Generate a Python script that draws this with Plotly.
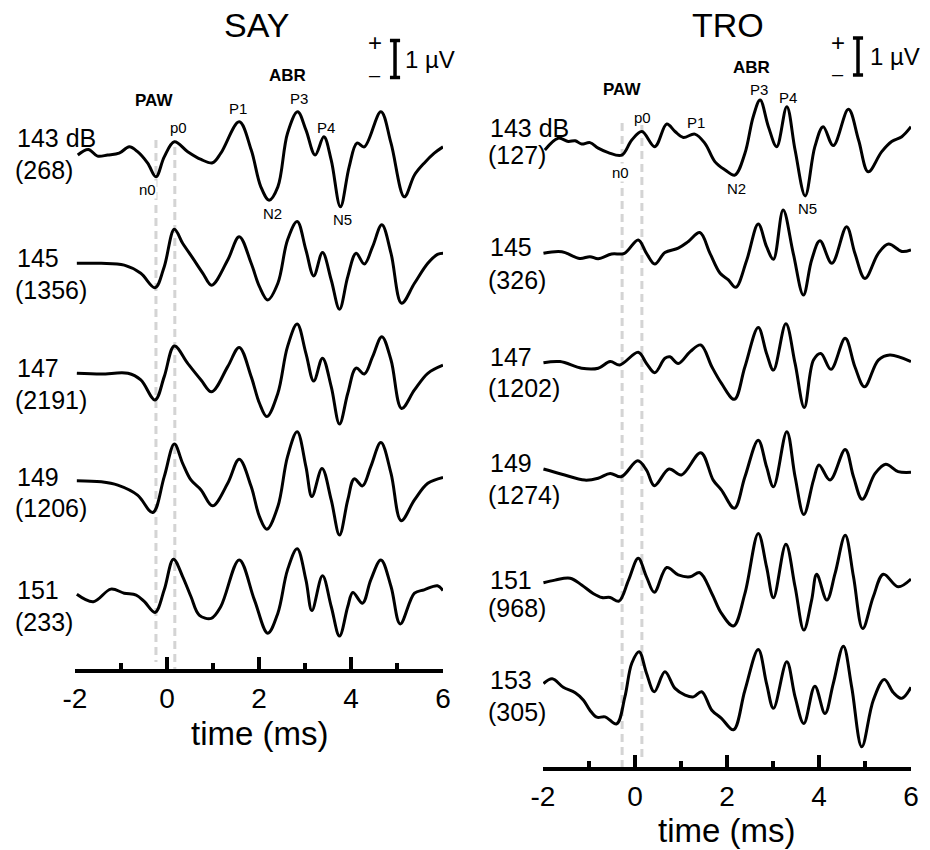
import plotly.graph_objects as go

# ---------------- DATA (time in ms, amplitude in µV relative to trace start) -------------
say_levels = ["143 dB", "145", "147", "149", "151"]
say_counts = ["(268)", "(1356)", "(2191)", "(1206)", "(233)"]
tro_levels = ["143 dB", "145", "147", "149", "151", "153"]
tro_counts = ["(127)", "(326)", "(1202)", "(1274)", "(968)", "(305)"]

say143_t = [-1.94,-1.71,-1.51,-1.29,-1.04,-0.82,-0.64,-0.42,-0.24,-0.06,0.16,0.45,0.74,0.99,1.17,1.57,1.83,2.04,2.22,2.41,2.62,2.84,3.02,3.22,3.41,3.57,3.77,3.96,4.13,4.29,4.65,4.87,5.16,5.38,5.59,5.81,6.0]
say143_v = [0,0.15,-0.03,0,0.05,0.22,0.09,-0.22,-0.59,-0.05,0.36,0.09,-0.12,-0.21,0.05,0.90,0.14,-0.86,-1.22,-0.86,0.59,1.17,0.68,0,0.49,-0.14,-1.40,-0.32,0.32,0.22,1.17,0.32,-1.13,-0.54,-0.22,0.05,0.22]

say145_t = [-1.96,-1.43,-0.93,-0.57,-0.26,-0.06,0.16,0.34,0.56,0.78,0.97,1.32,1.57,1.83,2.01,2.19,2.41,2.62,2.83,3.02,3.19,3.38,3.57,3.75,3.93,4.11,4.29,4.47,4.67,4.87,5.10,5.38,5.67,5.88,6.0]
say145_v = [0,0,-0.05,-0.27,-0.66,-0.09,0.92,0.54,0.14,-0.27,-0.59,0.09,0.72,0,-0.63,-0.99,-0.54,0.63,1.13,0.36,-0.34,0.29,-0.45,-1.24,-0.36,0.27,-0.02,0.45,1.04,0.27,-1.08,-0.54,0,0.24,0.27]

say147_t = [-1.96,-1.43,-0.85,-0.57,-0.26,-0.06,0.16,0.45,0.74,0.97,1.32,1.57,1.83,2.01,2.17,2.41,2.62,2.83,3.02,3.19,3.38,3.57,3.75,3.93,4.11,4.29,4.47,4.67,4.87,5.10,5.38,5.67,6.0]
say147_v = [0,-0.02,0,-0.18,-0.72,-0.09,0.74,0.27,-0.18,-0.50,0.18,0.70,-0.09,-0.81,-1.17,-0.54,0.72,1.33,0.54,-0.21,0.41,-0.36,-1.37,-0.54,0.14,-0.02,0.45,0.99,0.36,-0.95,-0.45,0,0.22]

say149_t = [-1.96,-1.43,-1.07,-0.64,-0.31,-0.06,0.16,0.34,0.52,0.74,0.99,1.32,1.57,1.83,2.01,2.17,2.41,2.62,2.83,3.02,3.15,3.37,3.57,3.75,3.93,4.07,4.25,4.43,4.65,4.87,5.09,5.38,5.67,6.0]
say149_v = [0,-0.03,-0.12,-0.39,-0.86,0.11,0.99,0.47,0.02,-0.25,-0.68,-0.07,0.58,-0.16,-0.97,-1.31,-0.70,0.65,1.32,0.38,-0.43,0.33,-0.52,-1.47,-0.52,0.05,-0.14,0.38,1.03,0.20,-1.08,-0.52,-0.07,0.09]

say151_t = [-1.96,-1.60,-1.22,-0.93,-0.67,-0.49,-0.26,-0.06,0.14,0.34,0.52,0.70,0.96,1.17,1.57,1.90,2.19,2.41,2.62,2.83,3.02,3.15,3.38,3.57,3.75,3.93,4.04,4.25,4.43,4.65,4.87,5.07,5.38,5.59,5.88,6.0]
say151_v = [0,-0.20,0.14,0.03,-0.02,-0.20,-0.49,0.12,0.95,0.48,-0.06,-0.56,-0.65,-0.33,0.93,-0.15,-1.05,-0.51,0.66,1.23,0.39,-0.44,0.50,-0.33,-1.13,-0.33,0.05,-0.24,0.39,0.93,0.21,-0.80,0.03,0.12,0.23,0.10]

tro143_t = [-1.96,-1.67,-1.45,-1.30,-1.16,-0.98,-0.80,-0.58,-0.29,-0.07,0.15,0.43,0.69,0.87,1.05,1.30,1.52,1.74,1.96,2.17,2.39,2.57,2.72,2.90,3.08,3.30,3.48,3.70,3.91,4.09,4.31,4.64,4.86,5.07,5.36,5.58,5.80,6.0]
tro143_v = [0,0.32,0.23,0.25,0.16,0.20,0.05,-0.07,-0.14,0.27,0.50,0.09,0.70,0.50,0.34,0.43,0.18,-0.32,-0.54,-0.68,-0.09,0.90,1.35,0.63,0.09,1.17,0,-1.24,0.09,0.63,0.12,1.10,0.27,-0.59,-0.05,0.23,0.36,0.63]

tro145_t = [-1.99,-1.59,-1.20,-0.98,-0.80,-0.51,-0.23,0.07,0.25,0.43,0.65,0.94,1.16,1.41,1.63,1.85,2.03,2.19,2.43,2.68,2.86,3.01,3.22,3.44,3.66,3.84,4.02,4.28,4.60,4.78,5.0,5.29,5.51,5.80,6.0]
tro145_v = [0,0.04,-0.14,-0.09,-0.15,-0.02,0,0.36,0,-0.29,0.02,0.14,0.32,0.56,0,-0.54,-0.72,-0.92,-0.18,0.79,0.18,-0.16,1.17,0,-1.13,-0.18,0.34,-0.27,0.72,0,-0.68,0,0.25,0.05,0.09]

tro147_t = [-1.99,-1.63,-1.16,-0.80,-0.54,-0.33,0.07,0.25,0.43,0.65,0.76,0.94,1.20,1.43,1.67,1.88,2.16,2.39,2.68,2.86,3.01,3.28,3.48,3.68,3.88,4.04,4.26,4.57,4.78,4.99,5.29,5.54,6.0]
tro147_v = [0,0.03,-0.15,-0.15,0.03,-0.06,0.28,-0.02,-0.27,0.12,0.16,-0.02,0.30,0.48,-0.11,-0.56,-0.99,-0.11,0.95,0.25,-0.20,1.05,-0.02,-1.21,0.07,0.25,-0.18,0.66,-0.11,-0.65,0.07,0.21,0.03]

tro149_t = [-1.99,-1.59,-1.09,-0.80,-0.54,-0.30,0.06,0.25,0.42,0.74,1.01,1.43,1.70,1.88,2.16,2.39,2.68,2.86,3.01,3.30,3.48,3.67,3.88,4.0,4.24,4.57,4.75,4.94,5.22,5.45,5.72,6.0]
tro149_v = [0,-0.14,-0.30,-0.25,-0.12,-0.21,0.22,-0.03,-0.45,0,-0.16,0.44,-0.30,-0.57,-1.06,-0.21,0.78,0.06,-0.48,1.01,-0.21,-1.23,-0.30,0.11,-0.30,0.53,-0.21,-0.82,-0.12,0.13,-0.07,-0.09]

tro151_t = [-1.99,-1.74,-1.41,-1.16,-0.91,-0.72,-0.54,-0.35,-0.14,0.07,0.25,0.42,0.69,0.94,1.20,1.41,1.67,1.88,2.14,2.39,2.68,2.86,3.01,3.28,3.48,3.67,3.84,3.95,4.17,4.35,4.57,4.75,4.95,5.18,5.40,5.72,6.0]
tro151_v = [0,0.07,0.12,-0.06,-0.29,-0.40,-0.40,-0.50,0.07,0.66,0.16,-0.26,0.41,0.21,0.16,0.27,-0.29,-0.83,-1.17,-0.29,1.33,0.43,-0.41,1.04,-0.11,-1.28,-0.47,0.23,-0.47,0.25,1.28,0.16,-1.24,-0.38,0.23,-0.11,0.10]

tro153_t = [-1.99,-1.80,-1.56,-1.30,-1.12,-0.98,-0.83,-0.65,-0.40,-0.22,-0.07,0.09,0.25,0.42,0.65,0.87,1.09,1.27,1.45,1.67,1.88,2.14,2.39,2.68,2.86,3.01,3.30,3.48,3.67,3.91,4.13,4.31,4.53,4.71,4.93,5.18,5.42,5.62,5.80,6.0]
tro153_v = [-0.05,0.08,-0.15,-0.30,-0.50,-0.77,-0.96,-0.95,-1.14,-0.41,0.50,0.81,0.23,-0.27,0.27,-0.18,-0.36,-0.41,-0.27,-0.77,-0.99,-1.30,-0.23,0.87,-0.05,-0.72,0.54,-0.41,-1.13,-0.12,-0.86,-0.05,0.96,-0.14,-1.76,-0.50,0.06,-0.30,-0.45,-0.15]

peak_names = ["p0", "n0", "P1", "P3", "P4", "N2", "N5"]
paw_marks = [-0.24, 0.17]      # SAY n0 / p0 latency markers (ms)
paw_marks_tro = [-0.28, 0.15]  # TRO n0 / p0 latency markers (ms)
x_ticks = [-2, 0, 2, 4, 6]
x_minor = [-1, 1, 3, 5]
x_title = "time (ms)"

# ---------------- LAYOUT CONSTANTS ----------------
W, H = 930, 850
PXUV = 37.0  # pixels per µV
FONT = "Arial, 'Liberation Sans', sans-serif"

def pxx(px):
    return px / W

def pxy(py):
    return 1 - py / H

panels = [
    dict(xa="x", ya="y", xdom=(75, 443), axis_py=669, title="SAY", title_x=257,
         traces=[(say143_t, say143_v), (say145_t, say145_v), (say147_t, say147_v),
                 (say149_t, say149_v), (say151_t, say151_v)],
         rows=[155, 263.3, 373.3, 480.7, 594.3],
         levels=say_levels, counts=say_counts, lab_x=15,
         lab1=[138, 258, 368, 477, 590], lab2=[170, 290, 400, 508, 622],
         marks=paw_marks, mark_top=[140, 147], mark_bot=[662, 669],
         peaks=[(178, 127), (147, 190), (238, 108), (299, 99), (326, 127), (272, 213), (342, 220)],
         abr=(287, 75), paw=(154, 100),
         bar_t=4.957, bar_top=40.5, plus_x=375, plus_y=(43, 75), uv=(403, 60),
         xt=(259, 733)),
    dict(xa="x2", ya="y2", xdom=(543, 911), axis_py=767, title="TRO", title_x=728,
         traces=[(tro143_t, tro143_v), (tro145_t, tro145_v), (tro147_t, tro147_v),
                 (tro149_t, tro149_v), (tro151_t, tro151_v), (tro153_t, tro153_v)],
         rows=[150, 253.3, 362.7, 469, 582.7, 681.7],
         levels=tro_levels, counts=tro_counts, lab_x=488,
         lab1=[128, 247, 357, 463, 580, 680], lab2=[155, 280, 388, 495, 608, 712],
         marks=paw_marks_tro, mark_top=[123, 125], mark_bot=[767, 757],
         peaks=[(642, 117), (620, 172), (696, 122), (759, 90), (788, 97), (736, 188), (807, 208)],
         abr=(751, 68), paw=(622, 90),
         bar_t=4.848, bar_top=38, plus_x=838, plus_y=(42, 74), uv=(868, 57),
         xt=(726, 830)),
]

fig = go.Figure()
annotations = []
layout_axes = {}

def txt(text, x, y, size, anchor="center", **extra):
    return dict(text=text, x=pxx(x), y=pxy(y), xref="paper", yref="paper",
                showarrow=False, xanchor=anchor, yanchor="middle",
                font=dict(family=FONT, size=size, color="black"), **extra)

for i, p in enumerate(panels):
    xa, ya = p["xa"], p["ya"]
    # dashed PAW markers
    for k, tm in enumerate(p["marks"]):
        fig.add_trace(go.Scatter(
            x=[tm, tm], y=[-p["mark_top"][k] / PXUV, -p["mark_bot"][k] / PXUV],
            mode="lines", line=dict(color="#d4d4d4", width=3, dash="8px,5px"),
            xaxis=xa, yaxis=ya, showlegend=False, hoverinfo="skip"))
    # waveforms
    for (t, v), row in zip(p["traces"], p["rows"]):
        off = -row / PXUV
        fig.add_trace(go.Scatter(
            x=t, y=[off + a for a in v], mode="lines",
            line=dict(color="black", width=3, shape="spline", smoothing=1.0),
            xaxis=xa, yaxis=ya, showlegend=False, hoverinfo="skip", cliponaxis=False))
    # 1 µV scale bar
    bt = p["bar_t"]; top = -p["bar_top"] / PXUV; bot = top - 1.0; hw = 0.11
    fig.add_trace(go.Scatter(
        x=[bt - hw, bt + hw, None, bt, bt, None, bt - hw, bt + hw],
        y=[top, top, None, top, bot, None, bot, bot],
        mode="lines", line=dict(color="black", width=3.5),
        xaxis=xa, yaxis=ya, showlegend=False, hoverinfo="skip", cliponaxis=False))

    # axes
    x0, x1 = p["xdom"]
    ax_py = p["axis_py"]
    key = "" if i == 0 else "2"
    layout_axes["xaxis" + key] = dict(
        domain=[pxx(x0), pxx(x1)], range=[-2, 6], anchor=ya,
        tickvals=x_ticks, ticktext=[str(v) for v in x_ticks],
        ticks="inside", ticklen=12, tickwidth=3.5, tickcolor="black",
        showline=True, linewidth=3.5, linecolor="black",
        showgrid=False, zeroline=False, automargin=False,
        tickfont=dict(family=FONT, size=28, color="black"),
        ticklabelstandoff=2,
        minor=dict(tickvals=x_minor, ticks="inside", ticklen=6, tickwidth=3.5,
                   tickcolor="black", showgrid=False),
        fixedrange=True)
    layout_axes["yaxis" + key] = dict(
        domain=[pxy(ax_py), 1], range=[-ax_py / PXUV, 0], anchor=xa,
        visible=False, showgrid=False, zeroline=False, fixedrange=True)

    annotations.append(txt(x_title, p["xt"][0], p["xt"][1], 33))
    annotations.append(txt(p["title"], p["title_x"], 25, 34))
    annotations.append(txt("<b>ABR</b>", p["abr"][0], p["abr"][1], 17))
    annotations.append(txt("<b>PAW</b>", p["paw"][0], p["paw"][1], 17))
    for name, (qx, qy) in zip(peak_names, p["peaks"]):
        extra = dict(bgcolor="white", borderpad=0) if name == "n0" else {}
        annotations.append(txt(name, qx, qy, 15, **extra))
    for lv, ct, l1, l2 in zip(p["levels"], p["counts"], p["lab1"], p["lab2"]):
        annotations.append(txt(lv, p["lab_x"], l1, 25, anchor="left"))
        annotations.append(txt(ct, p["lab_x"] - 2, l2, 25, anchor="left"))
    annotations.append(txt("+", p["plus_x"], p["plus_y"][0], 24))
    annotations.append(txt("–", p["plus_x"], p["plus_y"][1], 20))
    annotations.append(txt("1 µV", p["uv"][0], p["uv"][1], 24, anchor="left"))

fig.update_layout(
    width=W, height=H, margin=dict(l=0, r=0, t=0, b=0),
    paper_bgcolor="white", plot_bgcolor="white",
    showlegend=False, annotations=annotations, **layout_axes)

fig.write_html("out.html", config={"displayModeBar": False})
